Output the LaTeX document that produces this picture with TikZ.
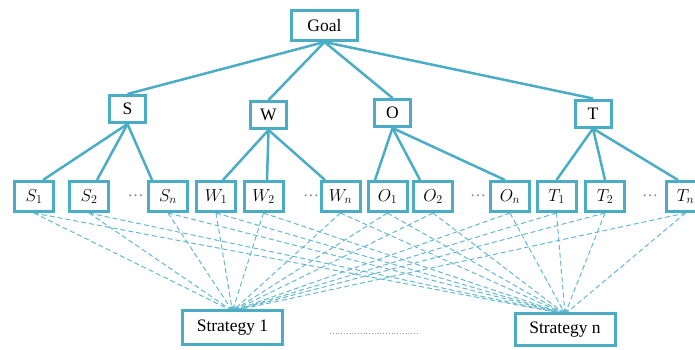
\documentclass[tikz,border=0pt]{standalone}
\usepackage{fontspec}
\setmainfont{Liberation Serif}
\usetikzlibrary{arrows.meta,calc,backgrounds}
\definecolor{tealc}{HTML}{4BACC6}
\begin{document}
\begin{tikzpicture}[x=1pt,y=-1pt,
  box/.style={draw=tealc,line width=3pt,fill=white,inner sep=0pt,font=\fontsize{17.5}{20}\selectfont},
  leaf/.style={box,minimum width=39pt,minimum height=30pt},
  mid/.style={box,minimum width=36pt,minimum height=27pt},
  strat/.style={box,minimum width=100pt,minimum height=34pt},
  tree/.style={draw=tealc,line width=2.5pt},
  link/.style={draw=tealc!85,line width=1pt,dash pattern=on 5pt off 3pt,-{Stealth[length=5pt,width=4pt]}},
  dotsl/.style={text=gray,font=\fontsize{16}{19}\selectfont,inner sep=0pt}]
\clip (0,0) rectangle (695,349);
\useasboundingbox (0,0) rectangle (695,349);

\node[box,minimum width=66pt,minimum height=30pt] (goal) at (324.5,25.5) {Goal};
\node[mid] (S) at (127.5,109) {S};
\node[mid] (W) at (268.5,115) {W};
\node[mid] (O) at (392.5,113) {O};
\node[mid] (T) at (593,113.5) {T};

\node[leaf] (S1) at (34,196.5) {$S_1$};
\node[leaf] (S2) at (89,196.5) {$S_2$};
\node[leaf] (Sn) at (168,196.5) {$S_n$};
\node[leaf] (W1) at (216,196.5) {$W_1$};
\node[leaf] (W2) at (263.5,196.5) {$W_2$};
\node[leaf] (Wn) at (340.5,196.5) {$W_n$};
\node[leaf] (O1) at (387.5,196.5) {$O_1$};
\node[leaf] (O2) at (433,196.5) {$O_2$};
\node[leaf] (On) at (510,196.5) {$O_n$};
\node[leaf] (T1) at (556.5,196.5) {$T_1$};
\node[leaf] (T2) at (605,196.5) {$T_2$};
\node[leaf] (Tn) at (685.5,196.5) {$T_n$};

\node[dotsl] (d1) at (135.5,196) {\ldots};
\node[dotsl] (d2) at (311,196) {\ldots};
\node[dotsl] (d3) at (478,196) {\ldots};
\node[dotsl] (d4) at (650,196) {\ldots};

\node[strat] (st1) at (232.5,327.5) {Strategy 1};
\node[strat,minimum height=32pt] (stn) at (565,329.5) {Strategy n};
\coordinate (dl) at (330,333);
\coordinate (dr) at (417,333);
\draw[gray!80,dotted,line width=0.8pt] (dl) -- (dr);

\begin{pgfonlayer}{background}
\foreach \p in {S,W,O,T} \draw[tree] (goal.south) -- (\p.north);
\draw[tree] (S.south) -- ([xshift=9pt]S1.north);
\draw[tree] (S.south) -- ([xshift=8pt]S2.north);
\draw[tree] (S.south) -- ([xshift=-16pt]Sn.north);
\draw[tree] (W.south) -- ([xshift=7pt]W1.north);
\draw[tree] (W.south) -- ([xshift=3.5pt]W2.north);
\draw[tree] (W.south) -- ([xshift=-15.5pt]Wn.north);
\draw[tree] (O.south) -- ([xshift=-12.5pt]O1.north);
\draw[tree] (O.south) -- ([xshift=-13pt]O2.north);
\draw[tree] (O.south) -- ([xshift=-5pt]On.north);
\draw[tree] (T.south) -- (T1.north);
\draw[tree] (T.south) -- (T2.north);
\draw[tree] (T.south) -- ([xshift=-7.5pt]Tn.north);
\foreach \l in {S1,S2,Sn,W1,W2,Wn,O1,O2,On,T1,T2,Tn} {
  \draw[link] (\l.south) -- ([yshift=-2pt]st1.north);
  \draw[link] (\l.south) -- ([yshift=-2pt]stn.north);
}
\end{pgfonlayer}
\end{tikzpicture}
\end{document}
